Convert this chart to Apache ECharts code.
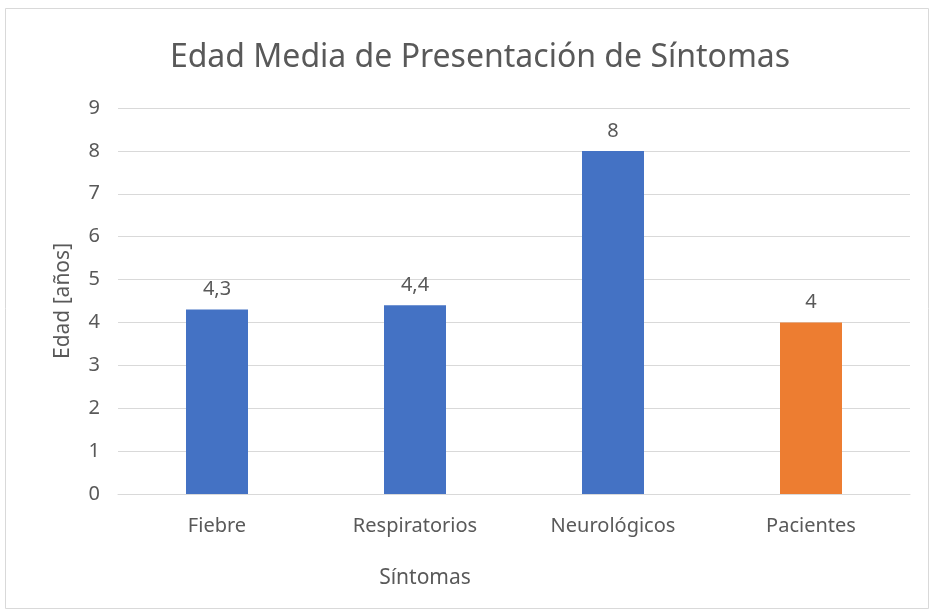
<!DOCTYPE html>
<html>
<head>
<meta charset="utf-8">
<script src="https://cdn.jsdelivr.net/npm/echarts@6/dist/echarts.min.js"></script>
<style>
html, body { margin: 0; padding: 0; background: #fff; }
#main { width: 934px; height: 614px; }
</style>
</head>
<body>
<div id="main"></div>
<script>
// datos del gráfico
var categorias = ['Fiebre', 'Respiratorios', 'Neurológicos', 'Pacientes'];
var edades = [4.3, 4.4, 8, 4];
var colores = ['#4472c4', '#4472c4', '#4472c4', '#ed7d31'];

var chart = echarts.init(document.getElementById('main'));
var fuente = 'Noto Sans, sans-serif';

chart.setOption({
    animation: false,
    backgroundColor: '#fff',
    textStyle: { fontFamily: fuente },
    title: [
        {
            text: 'Edad Media de Presentación de Síntomas',
            left: 475,
            top: 37,
            textAlign: 'center',
            textStyle: { fontSize: 32, fontWeight: 'normal', color: '#595959', fontFamily: fuente }
        },
        {
            text: 'Síntomas',
            left: 420,
            top: 563,
            textAlign: 'center',
            textStyle: { fontSize: 21, fontWeight: 'normal', color: '#595959', fontFamily: fuente }
        }
    ],
    graphic: [
        {
            type: 'rect',
            shape: { x: 5.5, y: 8.5, width: 923, height: 600 },
            style: { fill: 'none', stroke: '#d9d9d9', lineWidth: 1 },
            silent: true
        }
    ],
    grid: {
        left: 118,
        right: 24,
        top: 108,
        bottom: 120
    },
    xAxis: {
        type: 'category',
        data: categorias,
        axisTick: { show: false },
        axisLine: { lineStyle: { color: '#d9d9d9', width: 1 } },
        axisLabel: { color: '#595959', fontSize: 20, margin: 22 }
    },
    yAxis: {
        type: 'value',
        min: 0,
        max: 9,
        interval: 1,
        name: 'Edad [años]',
        nameLocation: 'middle',
        nameGap: 44,
        nameTextStyle: { color: '#595959', fontSize: 21 },
        axisLine: { show: false },
        axisTick: { show: false },
        axisLabel: { color: '#595959', fontSize: 20, margin: 18 },
        splitLine: { lineStyle: { color: '#d9d9d9', width: 1 } }
    },
    series: [
        {
            type: 'bar',
            data: edades.map(function (v, i) {
                return { value: v, itemStyle: { color: colores[i] } };
            }),
            barWidth: 62,
            label: {
                show: true,
                position: 'top',
                distance: 10,
                color: '#595959',
                fontSize: 20,
                formatter: function (p) {
                    return String(p.value).replace('.', ',');
                }
            }
        }
    ]
});
</script>
</body>
</html>
